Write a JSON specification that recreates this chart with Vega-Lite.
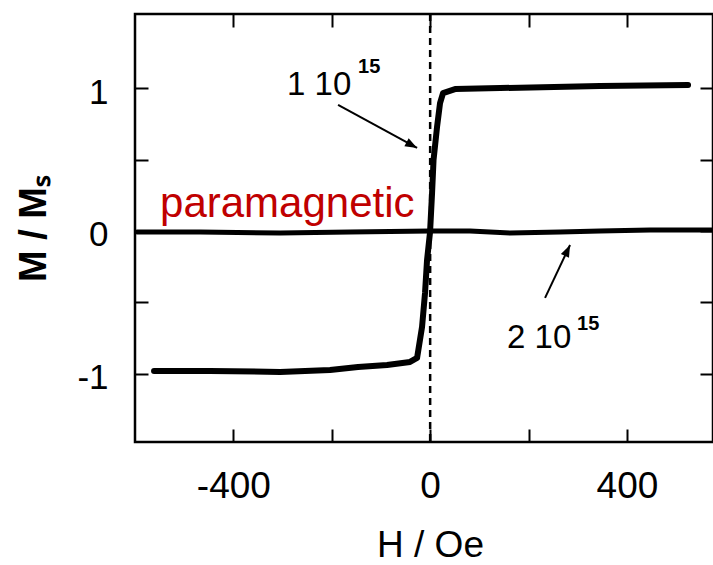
{
  "$schema": "https://vega.github.io/schema/vega-lite/v6.json",
  "width": 578,
  "height": 428,
  "autosize": {"type": "none"},
  "padding": {"left": 135, "top": 14, "right": 0, "bottom": 123},
  "background": "white",
  "config": {
    "view": {"stroke": "black", "strokeWidth": 2.5},
    "font": "Liberation Sans"
  },
  "datasets": {
    "loop": [
      {"H": -561.3, "M": -0.982}, {"H": -447.5, "M": -0.982}, {"H": -305.1, "M": -0.989},
      {"H": -203.5, "M": -0.975}, {"H": -146.6, "M": -0.954}, {"H": -87.6, "M": -0.94},
      {"H": -40.9, "M": -0.919}, {"H": -26.6, "M": -0.891}, {"H": -16.5, "M": -0.674},
      {"H": -10.4, "M": -0.435}, {"H": -6.3, "M": -0.204}, {"H": -0.2, "M": -0.008},
      {"H": 3.9, "M": 0.266}, {"H": 6.9, "M": 0.497}, {"H": 14.0, "M": 0.728},
      {"H": 20.1, "M": 0.896}, {"H": 26.2, "M": 0.966}, {"H": 50.6, "M": 0.994},
      {"H": 142.1, "M": 1.001}, {"H": 345.4, "M": 1.015}, {"H": 524.3, "M": 1.022}
    ],
    "para": [
      {"H": -595.7, "M": -0.008}, {"H": -467.6, "M": -0.008}, {"H": -305.1, "M": -0.015},
      {"H": -162.8, "M": -0.008}, {"H": -0.2, "M": -0.001}, {"H": 81.1, "M": -0.001},
      {"H": 162.5, "M": -0.015}, {"H": 264.1, "M": -0.008}, {"H": 345.4, "M": -0.001},
      {"H": 447.0, "M": 0.006}, {"H": 575.0, "M": 0.006}
    ],
    "arrows": [
      {"H": -187.2, "M": 0.883, "H2": -26.6, "M2": 0.581},
      {"H": 233.6, "M": -0.47, "H2": 284.4, "M2": -0.099}
    ],
    "labels": [
      {"H": -290.9, "M": 0.953, "text": "1 10"},
      {"H": 156.3, "M": -0.821, "text": "2 10"}
    ],
    "sups": [
      {"H": -146.6, "M": 1.107, "text": "15"},
      {"H": 298.6, "M": -0.695, "text": "15"}
    ],
    "param": [
      {"H": -549.1, "M": 0.097, "text": "paramagnetic"}
    ]
  },
  "layer": [
    {
      "data": {"values": [{"H": 0}]},
      "mark": {"type": "rule", "strokeDash": [7, 5], "strokeWidth": 2.5, "color": "black"},
      "encoding": {
        "x": {"field": "H", "type": "quantitative", "scale": {"domain": [-600, 575], "nice": false, "zero": false}, "axis": null}
      }
    },
    {
      "data": {"name": "para"},
      "mark": {"type": "line", "color": "black", "strokeWidth": 5, "strokeCap": "round"},
      "encoding": {
        "x": {"field": "H", "type": "quantitative", "scale": {"domain": [-600, 575], "nice": false, "zero": false},
          "axis": {"orient": "top", "values": [-400, -200, 0, 200, 400], "labels": false, "ticks": true, "tickSize": -13, "tickWidth": 2, "tickColor": "black", "domain": false, "grid": false, "title": null}},
        "y": {"field": "M", "type": "quantitative", "scale": {"domain": [-1.48, 1.52], "nice": false, "zero": false},
          "axis": {"orient": "right", "values": [-1, -0.5, 0, 0.5, 1], "labels": false, "ticks": true, "tickSize": -13, "tickWidth": 2, "tickColor": "black", "domain": false, "grid": false, "title": null}}
      }
    },
    {
      "data": {"name": "loop"},
      "mark": {"type": "line", "color": "black", "strokeWidth": 6, "strokeCap": "round", "strokeJoin": "round"},
      "encoding": {
        "x": {"field": "H", "type": "quantitative", "scale": {"domain": [-600, 575], "nice": false, "zero": false},
          "axis": {"orient": "bottom", "values": [-400, -200, 0, 200, 400], "labelExpr": "datum.value % 400 === 0 ? '' + datum.value : ''",
            "labelFontSize": 37, "labelColor": "black", "labelPadding": 39, "labelFlush": false,
            "ticks": true, "tickSize": -13, "tickWidth": 2, "tickColor": "black", "domain": false, "grid": false,
            "title": "H / Oe", "titleFontSize": 37, "titleFontWeight": "normal", "titleColor": "black",
            "titleX": 295, "titleY": 114, "titleBaseline": "alphabetic", "titleAlign": "center"}},
        "y": {"field": "M", "type": "quantitative", "scale": {"domain": [-1.48, 1.52], "nice": false, "zero": false},
          "axis": {"orient": "left", "values": [-1, -0.5, 0, 0.5, 1], "labelExpr": "datum.value % 1 === 0 ? '' + datum.value : ''",
            "labelFontSize": 35, "labelColor": "black", "labelPadding": 40, "labelOffset": 4, "labelFlush": false,
            "ticks": true, "tickSize": -13, "tickWidth": 2, "tickColor": "black", "domain": false, "grid": false,
            "title": "M / Mₛ", "titleFontSize": 38, "titleFontWeight": "bold", "titleColor": "black",
            "titleX": -101, "titleY": 214, "titleAngle": -90, "titleBaseline": "middle", "titleAlign": "center"}}
      }
    },
    {
      "data": {"name": "arrows"},
      "mark": {"type": "rule", "color": "black", "strokeWidth": 2},
      "encoding": {
        "x": {"field": "H", "type": "quantitative", "scale": {"domain": [-600, 575], "nice": false, "zero": false}, "axis": null},
        "y": {"field": "M", "type": "quantitative", "scale": {"domain": [-1.48, 1.52], "nice": false, "zero": false}, "axis": null},
        "x2": {"field": "H2"},
        "y2": {"field": "M2"}
      }
    },
    {
      "data": {"values": [{"H": -26.6, "M": 0.581}]},
      "mark": {"type": "point", "shape": "M0,0L-0.6,1.6L0.6,1.6Z", "filled": true, "color": "black", "opacity": 1, "size": 225, "angle": 118.6},
      "encoding": {
        "x": {"field": "H", "type": "quantitative", "scale": {"domain": [-600, 575], "nice": false, "zero": false}, "axis": null},
        "y": {"field": "M", "type": "quantitative", "scale": {"domain": [-1.48, 1.52], "nice": false, "zero": false}, "axis": null}
      }
    },
    {
      "data": {"values": [{"H": 284.4, "M": -0.099}]},
      "mark": {"type": "point", "shape": "M0,0L-0.6,1.6L0.6,1.6Z", "filled": true, "color": "black", "opacity": 1, "size": 225, "angle": 25.3},
      "encoding": {
        "x": {"field": "H", "type": "quantitative", "scale": {"domain": [-600, 575], "nice": false, "zero": false}, "axis": null},
        "y": {"field": "M", "type": "quantitative", "scale": {"domain": [-1.48, 1.52], "nice": false, "zero": false}, "axis": null}
      }
    },
    {
      "data": {"name": "labels"},
      "mark": {"type": "text", "align": "left", "baseline": "alphabetic", "fontSize": 33, "color": "black"},
      "encoding": {
        "x": {"field": "H", "type": "quantitative", "scale": {"domain": [-600, 575], "nice": false, "zero": false}, "axis": null},
        "y": {"field": "M", "type": "quantitative", "scale": {"domain": [-1.48, 1.52], "nice": false, "zero": false}, "axis": null},
        "text": {"field": "text"}
      }
    },
    {
      "data": {"name": "sups"},
      "mark": {"type": "text", "align": "left", "baseline": "alphabetic", "fontSize": 20, "fontWeight": "bold", "color": "black"},
      "encoding": {
        "x": {"field": "H", "type": "quantitative", "scale": {"domain": [-600, 575], "nice": false, "zero": false}, "axis": null},
        "y": {"field": "M", "type": "quantitative", "scale": {"domain": [-1.48, 1.52], "nice": false, "zero": false}, "axis": null},
        "text": {"field": "text"}
      }
    },
    {
      "data": {"name": "param"},
      "mark": {"type": "text", "align": "left", "baseline": "alphabetic", "fontSize": 42, "color": "#c00000"},
      "encoding": {
        "x": {"field": "H", "type": "quantitative", "scale": {"domain": [-600, 575], "nice": false, "zero": false}, "axis": null},
        "y": {"field": "M", "type": "quantitative", "scale": {"domain": [-1.48, 1.52], "nice": false, "zero": false}, "axis": null},
        "text": {"field": "text"}
      }
    }
  ]
}
